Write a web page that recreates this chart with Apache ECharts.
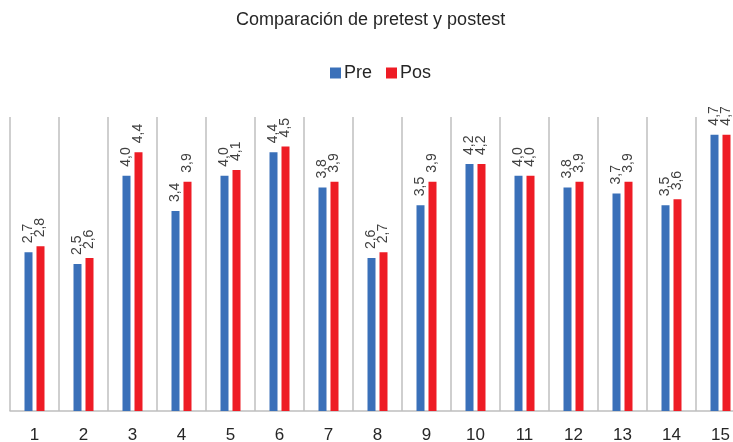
<!DOCTYPE html>
<html><head><meta charset="utf-8">
<script src="https://cdn.jsdelivr.net/npm/echarts@6/dist/echarts.min.js"></script>
<style>html,body{margin:0;padding:0;background:#fff}#c{width:733px;height:442px}</style>
</head><body><div id="c"></div>
<script>
const categories = ['1','2','3','4','5','6','7','8','9','10','11','12','13','14','15'];
const preValues = [2.7, 2.5, 4.0, 3.4, 4.0, 4.4, 3.8, 2.6, 3.5, 4.2, 4.0, 3.8, 3.7, 3.5, 4.7];
const posValues = [2.8, 2.6, 4.4, 3.9, 4.1, 4.5, 3.9, 2.7, 3.9, 4.2, 4.0, 3.9, 3.9, 3.6, 4.7];
const titleText = 'Comparación de pretest y postest';

const chart = echarts.init(document.getElementById('c'), null, {renderer:'canvas'});
const font = 'Liberation Sans, Arial, sans-serif';
const lbl = {
  show: true, position: 'top', rotate: 90, align: 'left', verticalAlign: 'middle',
  distance: 9, fontFamily: font, fontSize: 14, color: '#404040',
  formatter: p => p.value.toFixed(1).replace('.', ',')
};
chart.setOption({
  animation: false,
  title: { text: titleText, left: 231, top: 6, textStyle: { fontFamily: font, fontSize: 18, fontWeight: 'normal', color: '#262626' } },
  legend: { top: 59, left: 325, itemWidth: 11, itemHeight: 11, itemGap: 14, icon: 'rect',
    textStyle: { fontFamily: font, fontSize: 18, color: '#262626', padding: [0,0,0,-2] } },
  grid: { left: 10, right: -12, top: 117, bottom: 31, containLabel: false, outerBoundsMode: 'none' },
  xAxis: { type: 'category', data: categories,
    axisLine: { lineStyle: { color: '#bfbfbf', width: 1.5 } }, axisTick: { show: false },
    axisLabel: { fontFamily: font, fontSize: 17, color: '#262626', margin: 16, hideOverlap: false },
    splitLine: { show: true, interval: 0, lineStyle: { color: '#bfbfbf', width: 1.5 } } },
  yAxis: { type: 'value', min: 0, max: 5, interval: 1, show: false, splitLine: { show: false } },
  series: [
    { name: 'Pre', type: 'bar', data: preValues, barWidth: 8, barGap: '50%', itemStyle: { color: '#3a70b9' }, label: lbl },
    { name: 'Pos', type: 'bar', data: posValues, barWidth: 8, itemStyle: { color: '#ee1c25' }, label: lbl }
  ]
});
</script></body></html>
